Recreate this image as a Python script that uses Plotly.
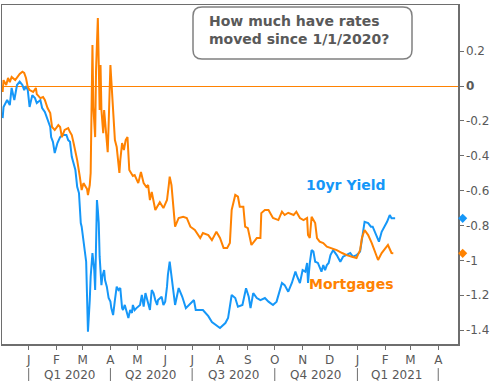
import plotly.graph_objects as go

# ---------------- data ----------------
yield_dates = [
    "2019-12-03", "2019-12-04", "2019-12-08", "2019-12-11", "2019-12-13", "2019-12-16", "2019-12-19",
    "2019-12-22", "2019-12-25", "2019-12-27", "2019-12-29", "2019-12-31", "2020-01-02", "2020-01-05",
    "2020-01-08", "2020-01-10", "2020-01-14", "2020-01-16", "2020-01-19", "2020-01-22", "2020-01-25",
    "2020-01-26", "2020-01-28", "2020-01-30", "2020-02-02", "2020-02-05", "2020-02-08", "2020-02-12",
    "2020-02-14", "2020-02-16", "2020-02-18", "2020-02-22", "2020-02-24", "2020-02-26", "2020-02-27",
    "2020-02-28", "2020-02-29", "2020-03-02", "2020-03-04", "2020-03-05", "2020-03-06", "2020-03-07",
    "2020-03-09", "2020-03-10", "2020-03-12", "2020-03-14", "2020-03-15", "2020-03-16", "2020-03-17",
    "2020-03-18", "2020-03-19", "2020-03-20", "2020-03-22", "2020-03-23", "2020-03-25", "2020-03-26",
    "2020-03-28", "2020-03-30", "2020-04-01", "2020-04-02", "2020-04-04", "2020-04-06", "2020-04-08",
    "2020-04-10", "2020-04-12", "2020-04-14", "2020-04-15", "2020-04-17", "2020-04-19", "2020-04-21",
    "2020-04-23", "2020-04-25", "2020-04-26", "2020-04-28", "2020-04-30", "2020-05-02", "2020-05-04",
    "2020-05-06", "2020-05-08", "2020-05-10", "2020-05-11", "2020-05-13", "2020-05-15", "2020-05-17",
    "2020-05-19", "2020-05-21", "2020-05-23", "2020-05-24", "2020-05-26", "2020-05-28", "2020-05-30",
    "2020-06-01", "2020-06-03", "2020-06-04", "2020-06-06", "2020-06-09", "2020-06-12", "2020-06-16",
    "2020-06-20", "2020-06-24", "2020-07-03", "2020-07-05", "2020-07-13", "2020-07-19", "2020-07-23",
    "2020-08-01", "2020-08-07", "2020-08-10", "2020-08-14", "2020-08-18", "2020-08-21", "2020-08-26",
    "2020-08-30", "2020-09-02", "2020-09-04", "2020-09-07", "2020-09-11", "2020-09-15", "2020-09-20",
    "2020-09-24", "2020-09-29", "2020-10-03", "2020-10-06", "2020-10-09", "2020-10-12", "2020-10-16",
    "2020-10-20", "2020-10-24", "2020-10-26", "2020-10-29", "2020-11-01", "2020-11-04", "2020-11-06",
    "2020-11-07", "2020-11-09", "2020-11-11", "2020-11-13", "2020-11-15", "2020-11-18", "2020-11-22",
    "2020-11-24", "2020-11-26", "2020-11-28", "2020-11-30", "2020-12-02", "2020-12-05", "2020-12-09",
    "2020-12-13", "2020-12-16", "2020-12-20", "2020-12-24", "2020-12-27", "2020-12-31", "2021-01-04",
    "2021-01-06", "2021-01-08", "2021-01-09", "2021-01-13", "2021-01-16", "2021-01-18", "2021-01-23",
    "2021-01-25", "2021-01-28", "2021-01-31", "2021-02-03", "2021-02-06", "2021-02-08", "2021-02-12",
]
yield_values = [
    -0.184, -0.12, -0.08, -0.109, -0.011, -0.08, 0.006,
    0.025, 0.006, -0.023, 0.0, -0.023, -0.12, -0.052,
    -0.069, -0.098, -0.08, -0.126, -0.149, -0.195, -0.235,
    -0.293, -0.32, -0.384, -0.327, -0.293, -0.281, -0.281,
    -0.31, -0.32, -0.406, -0.482, -0.578, -0.614, -0.711,
    -0.786, -0.807, -0.884, -0.958, -1.008, -1.209, -1.409,
    -1.228, -1.094, -0.958, -1.056, -1.17, -0.922, -0.654,
    -0.711, -0.786, -0.979, -1.142, -1.094, -1.056, -1.113,
    -1.151, -1.216, -1.237, -1.274, -1.314, -1.228, -1.151,
    -1.17, -1.159, -1.274, -1.285, -1.256, -1.295, -1.331,
    -1.285, -1.302, -1.256, -1.285, -1.274, -1.266, -1.256,
    -1.199, -1.266, -1.188, -1.209, -1.237, -1.285, -1.17,
    -1.188, -1.228, -1.256, -1.228, -1.216, -1.209, -1.256,
    -1.237, -1.151, -1.084, -1.008, -1.142, -1.256, -1.159,
    -1.209, -1.274, -1.228, -1.285, -1.285, -1.32, -1.354,
    -1.388, -1.36, -1.331, -1.199, -1.216, -1.266, -1.256,
    -1.16, -1.209, -1.274, -1.188, -1.216, -1.228, -1.216,
    -1.237, -1.256, -1.237, -1.18, -1.13, -1.142, -1.18,
    -1.13, -1.065, -1.094, -1.13, -1.056, -1.065, -1.015,
    -1.13, -1.015, -0.941, -0.95, -1.008, -1.015, -1.065,
    -1.027, -1.056, -1.027, -1.015, -0.97, -0.941, -0.97,
    -1.008, -0.979, -0.97, -0.958, -0.979, -0.97, -0.95,
    -0.884, -0.826, -0.779, -0.786, -0.807, -0.807, -0.865,
    -0.893, -0.836, -0.807, -0.779, -0.74, -0.759, -0.759,
]

mortgage_dates = [
    "2019-12-03", "2019-12-04", "2019-12-07", "2019-12-09", "2019-12-11", "2019-12-13", "2019-12-17",
    "2019-12-20", "2019-12-22", "2019-12-25", "2019-12-27", "2019-12-29", "2019-12-31", "2020-01-02",
    "2020-01-06", "2020-01-09", "2020-01-10", "2020-01-14", "2020-01-17", "2020-01-19", "2020-01-22",
    "2020-01-25", "2020-01-27", "2020-01-30", "2020-02-03", "2020-02-05", "2020-02-07", "2020-02-10",
    "2020-02-14", "2020-02-16", "2020-02-18", "2020-02-20", "2020-02-24", "2020-02-27", "2020-02-29",
    "2020-03-02", "2020-03-04", "2020-03-06", "2020-03-07", "2020-03-09", "2020-03-10", "2020-03-11",
    "2020-03-12", "2020-03-13", "2020-03-15", "2020-03-16", "2020-03-18", "2020-03-20", "2020-03-21",
    "2020-03-22", "2020-03-24", "2020-03-25", "2020-03-27", "2020-03-29", "2020-03-30", "2020-04-01",
    "2020-04-02", "2020-04-04", "2020-04-06", "2020-04-08", "2020-04-11", "2020-04-12", "2020-04-14",
    "2020-04-16", "2020-04-18", "2020-04-20", "2020-04-22", "2020-04-24", "2020-04-26", "2020-04-28",
    "2020-05-02", "2020-05-05", "2020-05-08", "2020-05-11", "2020-05-13", "2020-05-15", "2020-05-17",
    "2020-05-21", "2020-05-24", "2020-05-26", "2020-05-30", "2020-06-03", "2020-06-05", "2020-06-06",
    "2020-06-08", "2020-06-10", "2020-06-12", "2020-06-16", "2020-06-21", "2020-06-25", "2020-06-29",
    "2020-07-04", "2020-07-10", "2020-07-13", "2020-07-19", "2020-07-23", "2020-07-28", "2020-08-01",
    "2020-08-05", "2020-08-09", "2020-08-12", "2020-08-14", "2020-08-18", "2020-08-21", "2020-08-23",
    "2020-08-27", "2020-08-29", "2020-09-01", "2020-09-05", "2020-09-11", "2020-09-15", "2020-09-16",
    "2020-09-20", "2020-09-24", "2020-09-29", "2020-10-05", "2020-10-09", "2020-10-12", "2020-10-16",
    "2020-10-22", "2020-10-25", "2020-10-29", "2020-11-02", "2020-11-06", "2020-11-07", "2020-11-09",
    "2020-11-11", "2020-11-15", "2020-11-17", "2020-11-20", "2020-11-24", "2020-11-28", "2020-12-03",
    "2020-12-09", "2020-12-15", "2020-12-20", "2020-12-26", "2020-12-31", "2021-01-04", "2021-01-06",
    "2021-01-09", "2021-01-13", "2021-01-17", "2021-01-21", "2021-01-24", "2021-01-28", "2021-02-01",
    "2021-02-04", "2021-02-08", "2021-02-10",
]
mortgage_values = [
    -0.034, 0.034, 0.006, 0.046, 0.023, 0.052, 0.034,
    0.057, 0.069, 0.082, 0.075, 0.046, -0.006, -0.023,
    -0.034, -0.011, -0.046, -0.069, -0.063, -0.08, -0.126,
    -0.155, -0.235, -0.252, -0.224, -0.235, -0.293, -0.252,
    -0.241, -0.264, -0.281, -0.327, -0.425, -0.522, -0.597,
    -0.557, -0.574, -0.591, -0.625, -0.568, -0.499, -0.138,
    0.235, -0.12, -0.293, 0.092, 0.39, -0.138, 0.12,
    -0.138, -0.27, -0.138, -0.281, -0.379, -0.224, 0.12,
    0.034, -0.138, -0.31, -0.35, -0.499, -0.425, -0.327,
    -0.367, -0.31, -0.293, -0.482, -0.499, -0.516, -0.511,
    -0.557, -0.493, -0.557, -0.579, -0.568, -0.654, -0.608,
    -0.711, -0.683, -0.666, -0.7, -0.654, -0.568, -0.52,
    -0.568, -0.711, -0.807, -0.757, -0.75, -0.757, -0.807,
    -0.826, -0.872, -0.843, -0.855, -0.884, -0.836, -0.872,
    -0.929, -0.929, -0.901, -0.711, -0.625, -0.635, -0.692,
    -0.692, -0.807, -0.815, -0.912, -0.872, -0.872, -0.729,
    -0.711, -0.711, -0.757, -0.769, -0.721, -0.74, -0.727,
    -0.74, -0.721, -0.757, -0.769, -0.757, -0.855, -0.872,
    -0.75, -0.786, -0.872, -0.893, -0.901, -0.922, -0.929,
    -0.941, -0.958, -0.97, -0.979, -0.987, -0.941, -0.872,
    -0.826, -0.855, -0.901, -0.958, -0.998, -0.958, -0.929,
    -0.912, -0.958, -0.96,
]

month_ticks = [
    "2020-01-01", "2020-02-01", "2020-03-01", "2020-04-01", "2020-05-01", "2020-06-01",
    "2020-07-01", "2020-08-01", "2020-09-01", "2020-10-01", "2020-11-01", "2020-12-01",
    "2021-01-01", "2021-02-01", "2021-03-01", "2021-04-01",
]
month_labels = ["J", "F", "M", "A", "M", "J", "J", "A", "S", "O", "N", "D", "J", "F", "M", "A"]

quarter_labels = ["Q1 2020", "Q2 2020", "Q3 2020", "Q4 2020", "Q1 2021"]
quarter_centers = ["2020-02-15", "2020-05-16", "2020-08-16", "2020-11-15", "2021-02-14"]
quarter_bounds = ["2020-01-01", "2020-04-01", "2020-07-01", "2020-10-01", "2021-01-01", "2021-04-01"]

y_ticks = [-1.4, -1.2, -1.0, -0.8, -0.6, -0.4, -0.2, 0.0, 0.2]
y_tick_labels = ["-1.4", "-1.2", "-1", "-0.8", "-0.6", "-0.4", "-0.2", "<b>0</b>", "0.2"]

# ---------------- styling ----------------
BLUE = "#1597F8"
ORANGE = "#FF8201"
GREY = "#595959"
AXIS = "#6e6e6e"
FONT = "DejaVu Sans"

W, H = 492, 381
ML, MR, MT, MB = 2, 0, 5, 37
plot_w = W - ML - MR
plot_h = H - MT - MB
main_right = 456 / plot_w  # right axis sits at x=458 px

y_range = [-1.48, 0.465]

fig = go.Figure()

fig.add_trace(go.Scatter(
    x=yield_dates, y=yield_values, mode="lines",
    line=dict(color=BLUE, width=2), name="10yr Yield", hoverinfo="skip",
))
fig.add_trace(go.Scatter(
    x=mortgage_dates, y=mortgage_values, mode="lines",
    line=dict(color=ORANGE, width=2), name="Mortgages", hoverinfo="skip",
))

# end-of-series markers just right of the value axis
fig.add_trace(go.Scatter(
    x=[4.7, 4.7], y=[yield_values[-1], mortgage_values[-1]],
    xaxis="x2", yaxis="y2", mode="markers", cliponaxis=False,
    marker=dict(symbol="diamond", size=7, color=[BLUE, ORANGE]),
    hoverinfo="skip",
))

fig.update_layout(
    width=W, height=H,
    margin=dict(l=ML, r=MR, t=MT, b=MB, pad=0, autoexpand=False),
    paper_bgcolor="white", plot_bgcolor="white",
    showlegend=False,
    font=dict(family=FONT, size=12, color=GREY),
    xaxis=dict(
        domain=[0, main_right], type="date",
        range=["2019-12-02 07:00", "2021-04-23"],
        tickvals=month_ticks, ticktext=month_labels,
        ticks="outside", ticklen=4, tickwidth=1, tickcolor=AXIS,
        showline=True, linecolor=AXIS, linewidth=1.5, mirror=True,
        showgrid=False, zeroline=False, automargin=False,
        tickfont=dict(family=FONT, size=12, color=GREY),
    ),
    yaxis=dict(
        side="right", range=y_range,
        tickvals=y_ticks, ticktext=y_tick_labels,
        ticks="outside", ticklen=4, tickwidth=1, tickcolor=AXIS,
        showline=True, linecolor=AXIS, linewidth=1.5, mirror=True,
        showgrid=False, automargin=False,
        zeroline=True, zerolinecolor=ORANGE, zerolinewidth=1,
        tickfont=dict(family=FONT, size=12, color=GREY),
    ),
    xaxis2=dict(domain=[main_right, 1], range=[0, W - ML - 456 - MR], anchor="y2", visible=False),
    yaxis2=dict(range=y_range, anchor="x2", visible=False),
)

# quarter labels and separators
for lab, c in zip(quarter_labels, quarter_centers):
    fig.add_annotation(x=c, y=(344 - 375) / plot_h, xref="x", yref="paper", text=lab, showarrow=False,
                       font=dict(family=FONT, size=12, color=GREY), yanchor="middle")
for b in quarter_bounds:
    fig.add_shape(type="line", xref="x", yref="paper", x0=b, x1=b, y0=-0.071, y1=-0.12,
                  line=dict(color=AXIS, width=1))

# rounded title box
bx0, bx1 = (193 - ML) / plot_w, (412 - ML) / plot_w
byt, byb = (344 - 7) / plot_h, (344 - 59) / plot_h
rx, ry = 9 / plot_w, 9 / plot_h
path = (f"M {bx0+rx},{byt} L {bx1-rx},{byt} Q {bx1},{byt} {bx1},{byt-ry} "
        f"L {bx1},{byb+ry} Q {bx1},{byb} {bx1-rx},{byb} "
        f"L {bx0+rx},{byb} Q {bx0},{byb} {bx0},{byb+ry} "
        f"L {bx0},{byt-ry} Q {bx0},{byt} {bx0+rx},{byt} Z")
fig.add_shape(type="path", path=path, xref="paper", yref="paper",
              fillcolor="white", line=dict(color="#808080", width=1.5), layer="above")

fig.add_annotation(x=(207 - ML) / plot_w, y=(344 - 30) / plot_h, xref="paper", yref="paper",
                   text="<b>How much have rates<br>moved since 1/1/2020?</b>",
                   showarrow=False, align="left", xanchor="left", yanchor="middle",
                   font=dict(family=FONT, size=14, color=GREY))

fig.add_annotation(x=(387.5 - ML) / plot_w, y=(344 - 185) / plot_h, xref="paper", yref="paper",
                   text="<b>10yr Yield</b>", showarrow=False, yanchor="middle",
                   font=dict(family=FONT, size=14, color=BLUE))
fig.add_annotation(x=(394.7 - ML) / plot_w, y=(344 - 284) / plot_h, xref="paper", yref="paper",
                   text="<b>Mortgages</b>", showarrow=False, yanchor="middle",
                   font=dict(family=FONT, size=14, color=ORANGE))

fig.write_html(
    "out.html",
    config={"displayModeBar": False, "staticPlot": True},
    post_script="document.body.style.margin='0';document.body.style.overflow='hidden';",
)
